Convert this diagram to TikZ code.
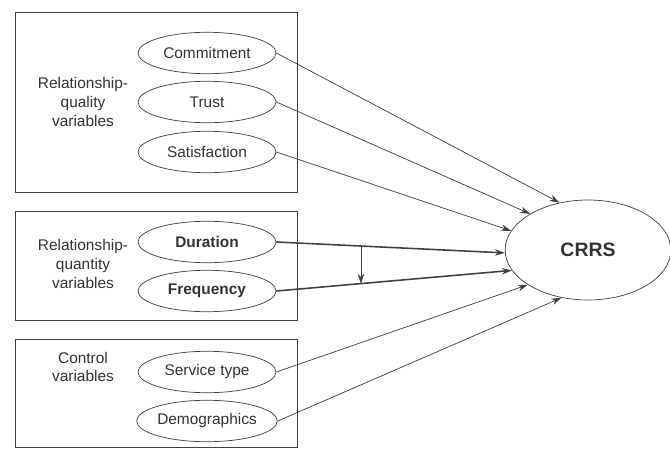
\documentclass[tikz,border=0pt]{standalone}
\usepackage{fontspec}
\setmainfont{Liberation Sans}
\usetikzlibrary{arrows.meta,shapes.geometric}
\begin{document}
\begin{tikzpicture}[x=0.7pt,y=-0.7pt,
  every node/.style={font=\fontsize{10.8}{13}\selectfont, text=black!80},
  group/.style={draw=black!75, line width=0.6pt},
  lbl/.style={align=center},
  var/.style={ellipse, draw=black!75, line width=0.5pt, minimum width=96.6pt, minimum height=29pt, inner sep=0pt},
  boldvar/.style={var, font=\fontsize{10.8}{13}\selectfont\bfseries},
  link/.style={draw=black!75, line width=0.5pt, -{Stealth[length=7pt,width=4.5pt]}},
  strong/.style={link, line width=1.1pt}]

\useasboundingbox (0,0) rectangle (670,452);

% groups
\draw[group] (15,12) rectangle (297,192);
\draw[group] (15,211) rectangle (297,320);
\draw[group] (15,339) rectangle (297,447);

\node[lbl] (qlbl) at (83,102) {Relationship-\\quality\\variables};
\node[var] (commit) at (207,53) {Commitment};
\node[var] (trust) at (207,102) {Trust};
\node[var] (satis) at (207,152) {Satisfaction};

\node[lbl] (nlbl) at (83,264) {Relationship-\\quantity\\variables};
\node[boldvar] (dur) at (207,242) {Duration};
\node[boldvar] (freq) at (207,291) {Frequency};

\node[lbl] (clbl) at (83,367) {Control\\variables};
\node[var] (svc) at (207,372) {Service type};
\node[var] (demo) at (207,421) {Demographics};

\node[ellipse, draw=black!75, line width=0.5pt, minimum width=116pt, minimum height=70pt,
  font=\fontsize{13.6}{16}\selectfont\bfseries] (crrs) at (588,250) {CRRS};

% paths
\draw[link] (commit.east) -- (crrs.121);
\draw[link] (trust.east) -- (crrs.148);
\draw[link] (satis.east) -- (crrs.166);
\draw[strong] (dur.east) -- coordinate[pos=0.37] (m1) (crrs.182);
\draw[strong] (freq.east) -- coordinate[pos=0.35] (m2) (crrs.195);
\draw[link] (m1) -- (m1 |- m2);
\draw[link] (svc.east) -- (crrs.210);
\draw[link] (demo.east) -- (crrs.241);
\end{tikzpicture}
\end{document}
